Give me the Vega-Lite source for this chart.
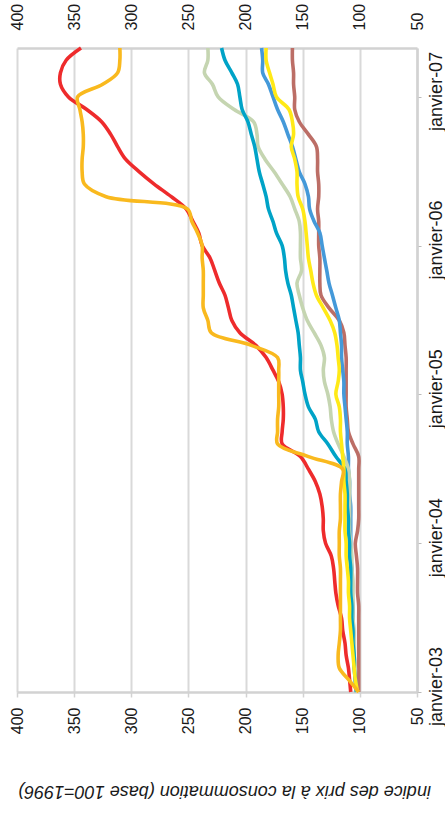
{
"$schema": "https://vega.github.io/schema/vega-lite/v6.json",
"width": 400,
"height": 644,
"autosize": {"type": "none"},
"padding": {"left": 17, "top": 48, "right": 28, "bottom": 121},
"background": "white",
"config": {"view": {"stroke": null}, "font": "Liberation Sans", "axis": {"labelFont": "Liberation Sans", "titleFont": "Liberation Sans"}},
"datasets": {
"prix": [
{"mois":"2003-01","serie":"série 1","indice":101},{"mois":"2003-02","serie":"série 1","indice":101},{"mois":"2003-03","serie":"série 1","indice":101},{"mois":"2003-04","serie":"série 1","indice":101},{"mois":"2003-05","serie":"série 1","indice":101},{"mois":"2003-06","serie":"série 1","indice":101},{"mois":"2003-07","serie":"série 1","indice":101},{"mois":"2003-08","serie":"série 1","indice":101},{"mois":"2003-09","serie":"série 1","indice":102},{"mois":"2003-10","serie":"série 1","indice":102},{"mois":"2003-11","serie":"série 1","indice":102},{"mois":"2003-12","serie":"série 1","indice":103},
{"mois":"2004-01","serie":"série 1","indice":104},{"mois":"2004-02","serie":"série 1","indice":102},{"mois":"2004-03","serie":"série 1","indice":101},{"mois":"2004-04","serie":"série 1","indice":101},{"mois":"2004-05","serie":"série 1","indice":101},{"mois":"2004-06","serie":"série 1","indice":101},{"mois":"2004-07","serie":"série 1","indice":101},{"mois":"2004-08","serie":"série 1","indice":101},{"mois":"2004-09","serie":"série 1","indice":106},{"mois":"2004-10","serie":"série 1","indice":110},{"mois":"2004-11","serie":"série 1","indice":111},{"mois":"2004-12","serie":"série 1","indice":112},
{"mois":"2005-01","serie":"série 1","indice":112},{"mois":"2005-02","serie":"série 1","indice":112},{"mois":"2005-03","serie":"série 1","indice":112},{"mois":"2005-04","serie":"série 1","indice":112},{"mois":"2005-05","serie":"série 1","indice":113},{"mois":"2005-06","serie":"série 1","indice":114},{"mois":"2005-07","serie":"série 1","indice":118},{"mois":"2005-08","serie":"série 1","indice":127},{"mois":"2005-09","serie":"série 1","indice":134},{"mois":"2005-10","serie":"série 1","indice":135},{"mois":"2005-11","serie":"série 1","indice":135},{"mois":"2005-12","serie":"série 1","indice":135},
{"mois":"2006-01","serie":"série 1","indice":136},{"mois":"2006-02","serie":"série 1","indice":136},{"mois":"2006-03","serie":"série 1","indice":136},{"mois":"2006-04","serie":"série 1","indice":137},{"mois":"2006-05","serie":"série 1","indice":136},{"mois":"2006-06","serie":"série 1","indice":136},{"mois":"2006-07","serie":"série 1","indice":137},{"mois":"2006-08","serie":"série 1","indice":137},{"mois":"2006-09","serie":"série 1","indice":138},{"mois":"2006-10","serie":"série 1","indice":145},{"mois":"2006-11","serie":"série 1","indice":153},{"mois":"2006-12","serie":"série 1","indice":157},
{"mois":"2007-01","serie":"série 1","indice":157},{"mois":"2007-02","serie":"série 1","indice":158},{"mois":"2007-03","serie":"série 1","indice":158},{"mois":"2007-04","serie":"série 1","indice":159},{"mois":"2007-05","serie":"série 1","indice":159},

{"mois":"2003-01","serie":"série 2","indice":103},{"mois":"2003-02","serie":"série 2","indice":104},{"mois":"2003-03","serie":"série 2","indice":104},{"mois":"2003-04","serie":"série 2","indice":105},{"mois":"2003-05","serie":"série 2","indice":105},{"mois":"2003-06","serie":"série 2","indice":106},{"mois":"2003-07","serie":"série 2","indice":106},{"mois":"2003-08","serie":"série 2","indice":106},{"mois":"2003-09","serie":"série 2","indice":107},{"mois":"2003-10","serie":"série 2","indice":107},{"mois":"2003-11","serie":"série 2","indice":107},{"mois":"2003-12","serie":"série 2","indice":108},
{"mois":"2004-01","serie":"série 2","indice":108},{"mois":"2004-02","serie":"série 2","indice":108},{"mois":"2004-03","serie":"série 2","indice":108},{"mois":"2004-04","serie":"série 2","indice":108},{"mois":"2004-05","serie":"série 2","indice":109},{"mois":"2004-06","serie":"série 2","indice":109},{"mois":"2004-07","serie":"série 2","indice":110},{"mois":"2004-08","serie":"série 2","indice":110},{"mois":"2004-09","serie":"série 2","indice":111},{"mois":"2004-10","serie":"série 2","indice":111},{"mois":"2004-11","serie":"série 2","indice":112},{"mois":"2004-12","serie":"série 2","indice":113},
{"mois":"2005-01","serie":"série 2","indice":114},{"mois":"2005-02","serie":"série 2","indice":114},{"mois":"2005-03","serie":"série 2","indice":115},{"mois":"2005-04","serie":"série 2","indice":116},{"mois":"2005-05","serie":"série 2","indice":116},{"mois":"2005-06","serie":"série 2","indice":117},{"mois":"2005-07","serie":"série 2","indice":118},{"mois":"2005-08","serie":"série 2","indice":121},{"mois":"2005-09","serie":"série 2","indice":124},{"mois":"2005-10","serie":"série 2","indice":127},{"mois":"2005-11","serie":"série 2","indice":129},{"mois":"2005-12","serie":"série 2","indice":131},
{"mois":"2006-01","serie":"série 2","indice":133},{"mois":"2006-02","serie":"série 2","indice":135},{"mois":"2006-03","serie":"série 2","indice":140},{"mois":"2006-04","serie":"série 2","indice":144},{"mois":"2006-05","serie":"série 2","indice":145},{"mois":"2006-06","serie":"série 2","indice":148},{"mois":"2006-07","serie":"série 2","indice":153},{"mois":"2006-08","serie":"série 2","indice":156},{"mois":"2006-09","serie":"série 2","indice":159},{"mois":"2006-10","serie":"série 2","indice":163},{"mois":"2006-11","serie":"série 2","indice":167},{"mois":"2006-12","serie":"série 2","indice":172},
{"mois":"2007-01","serie":"série 2","indice":176},{"mois":"2007-02","serie":"série 2","indice":180},{"mois":"2007-03","serie":"série 2","indice":185},{"mois":"2007-04","serie":"série 2","indice":185},{"mois":"2007-05","serie":"série 2","indice":186},

{"mois":"2003-01","serie":"série 3","indice":103},{"mois":"2003-02","serie":"série 3","indice":104},{"mois":"2003-03","serie":"série 3","indice":104},{"mois":"2003-04","serie":"série 3","indice":105},{"mois":"2003-05","serie":"série 3","indice":105},{"mois":"2003-06","serie":"série 3","indice":105},{"mois":"2003-07","serie":"série 3","indice":106},{"mois":"2003-08","serie":"série 3","indice":106},{"mois":"2003-09","serie":"série 3","indice":106},{"mois":"2003-10","serie":"série 3","indice":106},{"mois":"2003-11","serie":"série 3","indice":107},{"mois":"2003-12","serie":"série 3","indice":107},
{"mois":"2004-01","serie":"série 3","indice":108},{"mois":"2004-02","serie":"série 3","indice":109},{"mois":"2004-03","serie":"série 3","indice":109},{"mois":"2004-04","serie":"série 3","indice":109},{"mois":"2004-05","serie":"série 3","indice":109},{"mois":"2004-06","serie":"série 3","indice":109},{"mois":"2004-07","serie":"série 3","indice":110},{"mois":"2004-08","serie":"série 3","indice":114},{"mois":"2004-09","serie":"série 3","indice":119},{"mois":"2004-10","serie":"série 3","indice":123},{"mois":"2004-11","serie":"série 3","indice":125},{"mois":"2004-12","serie":"série 3","indice":126},
{"mois":"2005-01","serie":"série 3","indice":128},{"mois":"2005-02","serie":"série 3","indice":131},{"mois":"2005-03","serie":"série 3","indice":132},{"mois":"2005-04","serie":"série 3","indice":131},{"mois":"2005-05","serie":"série 3","indice":134},{"mois":"2005-06","serie":"série 3","indice":140},{"mois":"2005-07","serie":"série 3","indice":146},{"mois":"2005-08","serie":"série 3","indice":150},{"mois":"2005-09","serie":"série 3","indice":153},{"mois":"2005-10","serie":"série 3","indice":155},{"mois":"2005-11","serie":"série 3","indice":151},{"mois":"2005-12","serie":"série 3","indice":152},
{"mois":"2006-01","serie":"série 3","indice":152},{"mois":"2006-02","serie":"série 3","indice":152},{"mois":"2006-03","serie":"série 3","indice":153},{"mois":"2006-04","serie":"série 3","indice":157},{"mois":"2006-05","serie":"série 3","indice":161},{"mois":"2006-06","serie":"série 3","indice":168},{"mois":"2006-07","serie":"série 3","indice":175},{"mois":"2006-08","serie":"série 3","indice":183},{"mois":"2006-09","serie":"série 3","indice":189},{"mois":"2006-10","serie":"série 3","indice":190},{"mois":"2006-11","serie":"série 3","indice":193},{"mois":"2006-12","serie":"série 3","indice":210},
{"mois":"2007-01","serie":"série 3","indice":224},{"mois":"2007-02","serie":"série 3","indice":229},{"mois":"2007-03","serie":"série 3","indice":236},{"mois":"2007-04","serie":"série 3","indice":233},{"mois":"2007-05","serie":"série 3","indice":233},

{"mois":"2003-01","serie":"série 4","indice":103},{"mois":"2003-02","serie":"série 4","indice":104},{"mois":"2003-03","serie":"série 4","indice":105},{"mois":"2003-04","serie":"série 4","indice":105},{"mois":"2003-05","serie":"série 4","indice":106},{"mois":"2003-06","serie":"série 4","indice":106},{"mois":"2003-07","serie":"série 4","indice":107},{"mois":"2003-08","serie":"série 4","indice":107},{"mois":"2003-09","serie":"série 4","indice":108},{"mois":"2003-10","serie":"série 4","indice":108},{"mois":"2003-11","serie":"série 4","indice":108},{"mois":"2003-12","serie":"série 4","indice":109},
{"mois":"2004-01","serie":"série 4","indice":109},{"mois":"2004-02","serie":"série 4","indice":110},{"mois":"2004-03","serie":"série 4","indice":110},{"mois":"2004-04","serie":"série 4","indice":111},{"mois":"2004-05","serie":"série 4","indice":111},{"mois":"2004-06","serie":"série 4","indice":112},{"mois":"2004-07","serie":"série 4","indice":113},{"mois":"2004-08","serie":"série 4","indice":121},{"mois":"2004-09","serie":"série 4","indice":128},{"mois":"2004-10","serie":"série 4","indice":136},{"mois":"2004-11","serie":"série 4","indice":139},{"mois":"2004-12","serie":"série 4","indice":145},
{"mois":"2005-01","serie":"série 4","indice":148},{"mois":"2005-02","serie":"série 4","indice":150},{"mois":"2005-03","serie":"série 4","indice":152},{"mois":"2005-04","serie":"série 4","indice":152},{"mois":"2005-05","serie":"série 4","indice":153},{"mois":"2005-06","serie":"série 4","indice":154},{"mois":"2005-07","serie":"série 4","indice":156},{"mois":"2005-08","serie":"série 4","indice":158},{"mois":"2005-09","serie":"série 4","indice":160},{"mois":"2005-10","serie":"série 4","indice":163},{"mois":"2005-11","serie":"série 4","indice":165},{"mois":"2005-12","serie":"série 4","indice":166},
{"mois":"2006-01","serie":"série 4","indice":168},{"mois":"2006-02","serie":"série 4","indice":173},{"mois":"2006-03","serie":"série 4","indice":176},{"mois":"2006-04","serie":"série 4","indice":180},{"mois":"2006-05","serie":"série 4","indice":182},{"mois":"2006-06","serie":"série 4","indice":185},{"mois":"2006-07","serie":"série 4","indice":188},{"mois":"2006-08","serie":"série 4","indice":190},{"mois":"2006-09","serie":"série 4","indice":192},{"mois":"2006-10","serie":"série 4","indice":195},{"mois":"2006-11","serie":"série 4","indice":198},{"mois":"2006-12","serie":"série 4","indice":203},
{"mois":"2007-01","serie":"série 4","indice":205},{"mois":"2007-02","serie":"série 4","indice":207},{"mois":"2007-03","serie":"série 4","indice":212},{"mois":"2007-04","serie":"série 4","indice":218},{"mois":"2007-05","serie":"série 4","indice":221},

{"mois":"2003-01","serie":"série 5","indice":102},{"mois":"2003-02","serie":"série 5","indice":104},{"mois":"2003-03","serie":"série 5","indice":105},{"mois":"2003-04","serie":"série 5","indice":106},{"mois":"2003-05","serie":"série 5","indice":107},{"mois":"2003-06","serie":"série 5","indice":108},{"mois":"2003-07","serie":"série 5","indice":109},{"mois":"2003-08","serie":"série 5","indice":109},{"mois":"2003-09","serie":"série 5","indice":110},{"mois":"2003-10","serie":"série 5","indice":110},{"mois":"2003-11","serie":"série 5","indice":111},{"mois":"2003-12","serie":"série 5","indice":112},
{"mois":"2004-01","serie":"série 5","indice":112},{"mois":"2004-02","serie":"série 5","indice":113},{"mois":"2004-03","serie":"série 5","indice":113},{"mois":"2004-04","serie":"série 5","indice":113},{"mois":"2004-05","serie":"série 5","indice":113},{"mois":"2004-06","serie":"série 5","indice":114},{"mois":"2004-07","serie":"série 5","indice":114},{"mois":"2004-08","serie":"série 5","indice":115},{"mois":"2004-09","serie":"série 5","indice":116},{"mois":"2004-10","serie":"série 5","indice":117},{"mois":"2004-11","serie":"série 5","indice":117},{"mois":"2004-12","serie":"série 5","indice":118},
{"mois":"2005-01","serie":"série 5","indice":121},{"mois":"2005-02","serie":"série 5","indice":119},{"mois":"2005-03","serie":"série 5","indice":118},{"mois":"2005-04","serie":"série 5","indice":119},{"mois":"2005-05","serie":"série 5","indice":120},{"mois":"2005-06","serie":"série 5","indice":122},{"mois":"2005-07","serie":"série 5","indice":126},{"mois":"2005-08","serie":"série 5","indice":132},{"mois":"2005-09","serie":"série 5","indice":138},{"mois":"2005-10","serie":"série 5","indice":141},{"mois":"2005-11","serie":"série 5","indice":143},{"mois":"2005-12","serie":"série 5","indice":145},
{"mois":"2006-01","serie":"série 5","indice":146},{"mois":"2006-02","serie":"série 5","indice":147},{"mois":"2006-03","serie":"série 5","indice":148},{"mois":"2006-04","serie":"série 5","indice":150},{"mois":"2006-05","serie":"série 5","indice":154},{"mois":"2006-06","serie":"série 5","indice":155},{"mois":"2006-07","serie":"série 5","indice":155},{"mois":"2006-08","serie":"série 5","indice":157},{"mois":"2006-09","serie":"série 5","indice":160},{"mois":"2006-10","serie":"série 5","indice":158},{"mois":"2006-11","serie":"série 5","indice":159},{"mois":"2006-12","serie":"série 5","indice":162},
{"mois":"2007-01","serie":"série 5","indice":173},{"mois":"2007-02","serie":"série 5","indice":176},{"mois":"2007-03","serie":"série 5","indice":179},{"mois":"2007-04","serie":"série 5","indice":182},{"mois":"2007-05","serie":"série 5","indice":182},

{"mois":"2003-01","serie":"série 6","indice":108},{"mois":"2003-02","serie":"série 6","indice":109},{"mois":"2003-03","serie":"série 6","indice":110},{"mois":"2003-04","serie":"série 6","indice":112},{"mois":"2003-05","serie":"série 6","indice":113},{"mois":"2003-06","serie":"série 6","indice":115},{"mois":"2003-07","serie":"série 6","indice":116},{"mois":"2003-08","serie":"série 6","indice":119},{"mois":"2003-09","serie":"série 6","indice":121},{"mois":"2003-10","serie":"série 6","indice":122},{"mois":"2003-11","serie":"série 6","indice":123},{"mois":"2003-12","serie":"série 6","indice":125},
{"mois":"2004-01","serie":"série 6","indice":130},{"mois":"2004-02","serie":"série 6","indice":132},{"mois":"2004-03","serie":"série 6","indice":132},{"mois":"2004-04","serie":"série 6","indice":133},{"mois":"2004-05","serie":"série 6","indice":135},{"mois":"2004-06","serie":"série 6","indice":139},{"mois":"2004-07","serie":"série 6","indice":145},{"mois":"2004-08","serie":"série 6","indice":152},{"mois":"2004-09","serie":"série 6","indice":168},{"mois":"2004-10","serie":"série 6","indice":168},{"mois":"2004-11","serie":"série 6","indice":167},{"mois":"2004-12","serie":"série 6","indice":167},
{"mois":"2005-01","serie":"série 6","indice":168},{"mois":"2005-02","serie":"série 6","indice":171},{"mois":"2005-03","serie":"série 6","indice":176},{"mois":"2005-04","serie":"série 6","indice":182},{"mois":"2005-05","serie":"série 6","indice":191},{"mois":"2005-06","serie":"série 6","indice":205},{"mois":"2005-07","serie":"série 6","indice":212},{"mois":"2005-08","serie":"série 6","indice":215},{"mois":"2005-09","serie":"série 6","indice":218},{"mois":"2005-10","serie":"série 6","indice":223},{"mois":"2005-11","serie":"série 6","indice":227},{"mois":"2005-12","serie":"série 6","indice":231},
{"mois":"2006-01","serie":"série 6","indice":238},{"mois":"2006-02","serie":"série 6","indice":241},{"mois":"2006-03","serie":"série 6","indice":246},{"mois":"2006-04","serie":"série 6","indice":252},{"mois":"2006-05","serie":"série 6","indice":265},{"mois":"2006-06","serie":"série 6","indice":280},{"mois":"2006-07","serie":"série 6","indice":293},{"mois":"2006-08","serie":"série 6","indice":305},{"mois":"2006-09","serie":"série 6","indice":312},{"mois":"2006-10","serie":"série 6","indice":318},{"mois":"2006-11","serie":"série 6","indice":326},{"mois":"2006-12","serie":"série 6","indice":339},
{"mois":"2007-01","serie":"série 6","indice":355},{"mois":"2007-02","serie":"série 6","indice":362},{"mois":"2007-03","serie":"série 6","indice":362},{"mois":"2007-04","serie":"série 6","indice":357},{"mois":"2007-05","serie":"série 6","indice":344},

{"mois":"2003-01","serie":"série 7","indice":101},{"mois":"2003-02","serie":"série 7","indice":110},{"mois":"2003-03","serie":"série 7","indice":118},{"mois":"2003-04","serie":"série 7","indice":119},{"mois":"2003-05","serie":"série 7","indice":118},{"mois":"2003-06","serie":"série 7","indice":117},{"mois":"2003-07","serie":"série 7","indice":117},{"mois":"2003-08","serie":"série 7","indice":117},{"mois":"2003-09","serie":"série 7","indice":117},{"mois":"2003-10","serie":"série 7","indice":117},{"mois":"2003-11","serie":"série 7","indice":117},{"mois":"2003-12","serie":"série 7","indice":118},
{"mois":"2004-01","serie":"série 7","indice":118},{"mois":"2004-02","serie":"série 7","indice":118},{"mois":"2004-03","serie":"série 7","indice":117},{"mois":"2004-04","serie":"série 7","indice":117},{"mois":"2004-05","serie":"série 7","indice":117},{"mois":"2004-06","serie":"série 7","indice":116},{"mois":"2004-07","serie":"série 7","indice":115},{"mois":"2004-08","serie":"série 7","indice":145},{"mois":"2004-09","serie":"série 7","indice":172},{"mois":"2004-10","serie":"série 7","indice":172},{"mois":"2004-11","serie":"série 7","indice":172},{"mois":"2004-12","serie":"série 7","indice":171},
{"mois":"2005-01","serie":"série 7","indice":171},{"mois":"2005-02","serie":"série 7","indice":171},{"mois":"2005-03","serie":"série 7","indice":171},{"mois":"2005-04","serie":"série 7","indice":172},{"mois":"2005-05","serie":"série 7","indice":195},{"mois":"2005-06","serie":"série 7","indice":230},{"mois":"2005-07","serie":"série 7","indice":233},{"mois":"2005-08","serie":"série 7","indice":237},{"mois":"2005-09","serie":"série 7","indice":237},{"mois":"2005-10","serie":"série 7","indice":237},{"mois":"2005-11","serie":"série 7","indice":237},{"mois":"2005-12","serie":"série 7","indice":238},
{"mois":"2006-01","serie":"série 7","indice":238},{"mois":"2006-02","serie":"série 7","indice":242},{"mois":"2006-03","serie":"série 7","indice":247},{"mois":"2006-04","serie":"série 7","indice":251},{"mois":"2006-05","serie":"série 7","indice":322},{"mois":"2006-06","serie":"série 7","indice":341},{"mois":"2006-07","serie":"série 7","indice":343},{"mois":"2006-08","serie":"série 7","indice":343},{"mois":"2006-09","serie":"série 7","indice":342},{"mois":"2006-10","serie":"série 7","indice":342},{"mois":"2006-11","serie":"série 7","indice":343},{"mois":"2006-12","serie":"série 7","indice":345},
{"mois":"2007-01","serie":"série 7","indice":347},{"mois":"2007-02","serie":"série 7","indice":325},{"mois":"2007-03","serie":"série 7","indice":312},{"mois":"2007-04","serie":"série 7","indice":310},{"mois":"2007-05","serie":"série 7","indice":310}
]
},
"data": {"name": "prix"},
"layer": [
{
"mark": {"type": "line", "strokeWidth": 3.6, "interpolate": "catmull-rom"},
"encoding": {
"x": {"field": "indice", "type": "quantitative",
"scale": {"domain": [50, 400], "reverse": true, "nice": false, "zero": false},
"axis": {"orient": "bottom", "values": [50, 100, 150, 200, 250, 300, 350, 400],
"grid": true, "gridColor": "#D9D9D9", "gridWidth": 2,
"domainColor": "#D2D2D2", "domainWidth": 2.5,
"tickColor": "#D2D2D2", "tickWidth": 1.5, "tickSize": 5,
"labelAngle": -90, "labelAlign": "right", "labelBaseline": "middle", "labelPadding": 10,
"labelFontSize": 16, "labelColor": "#1a1a1a", "labelFlush": false, "labelOverlap": false,
"title": "indice des prix à la consommation (base 100=1996)",
"titleAngle": 180, "titleFontStyle": "italic", "titleFontWeight": "normal", "titleFontSize": 18,
"titleColor": "#1a1a1a", "titleBaseline": "middle", "titleAlign": "center", "titleAnchor": "middle",
"titleX": 207, "titleY": 98}},
"y": {"field": "mois", "type": "temporal",
"scale": {"type": "utc", "domain": [{"year": 2003, "month": 1, "date": 1, "utc": true}, {"year": 2007, "month": 5, "date": 1, "utc": true}]},
"axis": {"orient": "right",
"values": [{"year": 2003, "month": 1, "date": 1, "utc": true}, {"year": 2004, "month": 1, "date": 1, "utc": true}, {"year": 2005, "month": 1, "date": 1, "utc": true}, {"year": 2006, "month": 1, "date": 1, "utc": true}, {"year": 2007, "month": 1, "date": 1, "utc": true}],
"labelExpr": "'janvier-' + utcFormat(datum.value, '%y')",
"grid": false, "domainColor": "#D2D2D2", "domainWidth": 2.5,
"tickColor": "#BBBBBB", "tickSize": 4, "tickWidth": 1,
"labelAngle": -90, "labelAlign": "center", "labelBaseline": "top", "labelPadding": 6, "labelOffset": -6,
"labelFontSize": 18, "labelColor": "#1a1a1a", "labelFlush": false, "labelOverlap": false,
"title": null}},
"order": {"field": "mois", "type": "temporal"},
"color": {"field": "serie", "type": "nominal",
"scale": {"domain": ["série 1", "série 2", "série 3", "série 4", "série 5", "série 6", "série 7"],
"range": ["#BC6E66", "#4499D9", "#C5D5B1", "#00A3C7", "#FFE917", "#EE2B2C", "#F9B91E"]},
"legend": null}
}
},
{
"mark": {"type": "rule", "opacity": 0},
"encoding": {
"x": {"field": "indice", "type": "quantitative",
"axis": {"orient": "top", "values": [50, 100, 150, 200, 250, 300, 350, 400],
"grid": false, "ticks": false, "tickSize": 0,
"domainColor": "#D2D2D2", "domainWidth": 2.5,
"labelAngle": -90, "labelAlign": "left", "labelBaseline": "middle", "labelPadding": 18,
"labelFontSize": 16, "labelColor": "#1a1a1a", "labelFlush": false, "labelOverlap": false,
"title": null}}
}
}
],
"resolve": {"axis": {"x": "independent"}}
}
